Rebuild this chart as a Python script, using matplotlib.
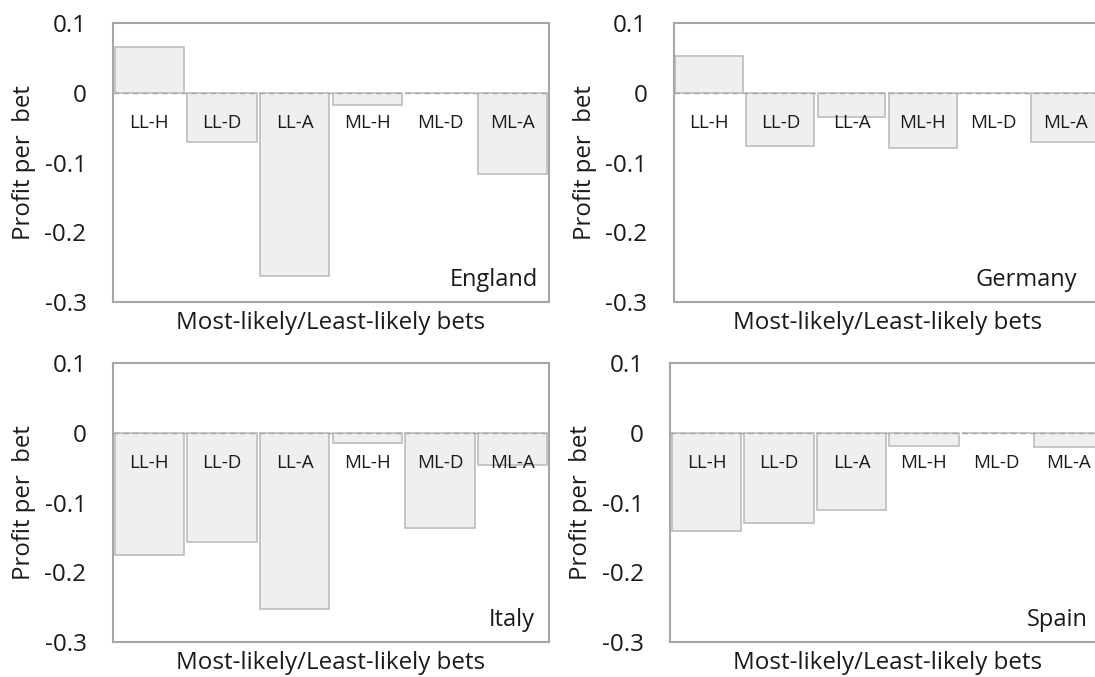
import matplotlib
matplotlib.use("Agg")
import matplotlib.pyplot as plt

categories = ["LL-H", "LL-D", "LL-A", "ML-H", "ML-D", "ML-A"]
england = [0.065, -0.070, -0.263, -0.017, 0.0, -0.116]
germany = [0.052, -0.076, -0.035, -0.079, 0.0, -0.070]
italy = [-0.175, -0.156, -0.252, -0.014, -0.136, -0.046]
spain = [-0.141, -0.129, -0.111, -0.019, 0.0, -0.021]
countries = ["England", "Germany", "Italy", "Spain"]
yticks = [0.1, 0, -0.1, -0.2, -0.3]
yticklabels = ["0.1", "0", "-0.1", "-0.2", "-0.3"]

plt.rcParams['font.family'] = ['Open Sans', 'DejaVu Sans']
TEXT = '#1a1a1a'

W, H = 1095, 677
fig = plt.figure(figsize=(W / 100, H / 100), dpi=100)

# (left px, top px, width px, height px, country label x in axes frac)
panels = [
    (113, 23, 436, 279, england, countries[0], 0.975),
    (673.6, 23, 427, 279, germany, countries[1], 0.944),
    (113, 363, 436, 279, italy, countries[2], 0.968),
    (670.2, 363, 435, 279, spain, countries[3], 0.96),
]

for left, top, w, h, vals, name, lx in panels:
    ax = fig.add_axes([left / W, 1 - (top + h) / H, w / W, h / H])
    x = list(range(len(categories)))
    ax.bar(x, vals, width=0.955, color='#efefef', edgecolor='#bdbdbd',
           linewidth=1.2, zorder=2)
    ax.axhline(0, color='#a6a6a6', linewidth=1.0, linestyle=(0, (4, 3)), zorder=3)
    ax.set_xlim(-0.5, len(categories) - 0.5)
    ax.set_ylim(-0.3, 0.1)
    ax.set_yticks(yticks)
    ax.set_yticklabels(yticklabels)
    ax.set_xticks([])
    ax.tick_params(axis='y', length=0, pad=19, labelsize=17.5, labelcolor=TEXT)
    for s in ax.spines.values():
        s.set_color('#a6a6a6')
        s.set_linewidth(1.5)
    for i, c in enumerate(categories):
        ax.text(i, -0.043, c, ha='center', va='center', fontsize=13.5,
                color=TEXT, zorder=4)
    ax.text(lx, 0.08, name, transform=ax.transAxes, ha='right',
            va='center', fontsize=17, color=TEXT)
    ax.set_ylabel("Profit per  bet", fontsize=17.3, color=TEXT)
    ax.yaxis.set_label_coords(-89 / w, 0.5)
    ax.yaxis.label.set_va('center')
    ax.set_xlabel("Most-likely/Least-likely bets", fontsize=17.4, color=TEXT)
    ax.xaxis.set_label_coords(0.5, -21 / h)
    ax.xaxis.label.set_va('center')

fig.savefig("out.png", dpi=100)
